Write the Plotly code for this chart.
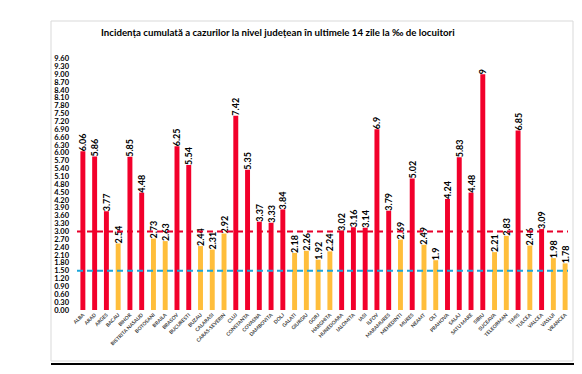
import plotly.graph_objects as go

counties = ["ALBA", "ARAD", "ARGES", "BACAU", "BIHOR", "BISTRITA NASAUD", "BOTOSANI", "BRAILA",
            "BRASOV", "BUCURESTI", "BUZAU", "CALARASI", "CARAS-SEVERIN", "CLUJ", "CONSTANTA",
            "COVASNA", "DAMBOVITA", "DOLJ", "GALATI", "GIURGIU", "GORJ", "HARGHITA", "HUNEDOARA",
            "IALOMITA", "IASI", "ILFOV", "MARAMURES", "MEHEDINTI", "MURES", "NEAMT", "OLT",
            "PRAHOVA", "SALAJ", "SATU MARE", "SIBIU", "SUCEAVA", "TELEORMAN", "TIMIS", "TULCEA",
            "VALCEA", "VASLUI", "VRANCEA"]
incidence = [6.06, 5.86, 3.77, 2.54, 5.85, 4.48, 2.73, 2.63, 6.25, 5.54, 2.44, 2.31, 2.92, 7.42,
             5.35, 3.37, 3.33, 3.84, 2.18, 2.26, 1.92, 2.24, 3.02, 3.16, 3.14, 6.9, 3.79, 2.69,
             5.02, 2.49, 1.9, 4.24, 5.83, 4.48, 9, 2.21, 2.83, 6.85, 2.46, 3.09, 1.98, 1.78]
threshold_red = 3.0
threshold_blue = 1.5
ytick_vals = [round(i * 0.3, 2) for i in range(33)]
ytick_text = [f"{v:.2f}" for v in ytick_vals]
title_text = "Incidența cumulată a cazurilor la nivel județean în ultimele 14 zile la ‰ de locuitori"

RED = "#F2002B"
ORANGE = "#FFBE3B"
colors = [RED if v > threshold_red else ORANGE for v in incidence]
labels = [f"{v:g}" for v in incidence]

fig = go.Figure()
fig.add_trace(go.Bar(
    x=counties, y=incidence, marker=dict(color=colors, line=dict(width=0)),
    text=labels, textposition="outside", textangle=-90, cliponaxis=False,
    constraintext="none",
    textfont=dict(family="Lato", size=9, color="#000000", weight="bold"),
    hoverinfo="x+y",
))

L, R, T, B = 69, 19, 50, 72
W, H = 582, 374
pw, ph = W - L - R, H - T - B

def px_x(x):
    return (x - L) / pw

def px_y(y):
    return (H - B - y) / ph

shapes = [
    dict(type="rect", xref="paper", yref="paper", x0=px_x(43), x1=px_x(565), y0=px_y(353), y1=px_y(13),
         line=dict(color="#D9D9D9", width=1), fillcolor="rgba(0,0,0,0)", layer="below"),
    dict(type="line", xref="paper", yref="paper", x0=px_x(43), x1=px_x(566), y0=px_y(356), y1=px_y(356),
         line=dict(color="#000000", width=2)),
    dict(type="line", xref="paper", yref="y", x0=0, x1=px_x(560), y0=threshold_red, y1=threshold_red,
         line=dict(color="#E8002A", width=2, dash="6px,4px")),
    dict(type="line", xref="paper", yref="y", x0=0, x1=px_x(560), y0=threshold_blue, y1=threshold_blue,
         line=dict(color="#1DA6DA", width=2, dash="6px,4px")),
]

fig.update_layout(
    width=W, height=H,
    margin=dict(l=L, r=R, t=T, b=B, autoexpand=False),
    paper_bgcolor="white", plot_bgcolor="white",
    showlegend=False,
    bargap=0.58,
    shapes=shapes,
    title=dict(text=title_text, x=93 / W, xref="container", xanchor="left",
               y=1 - 25 / H, yanchor="middle",
               font=dict(family="Lato", size=9.7, color="#000000", weight="bold")),
    xaxis=dict(tickangle=-45, showgrid=False, showline=False, zeroline=False,
               tickfont=dict(family="Lato", size=5, color="#404040", weight="bold"),
               ticks="", automargin=False),
    yaxis=dict(range=[0, 9.62], tickmode="array", tickvals=ytick_vals, ticktext=ytick_text,
               showgrid=False, showline=False, zeroline=False, ticks="",
               ticklabelstandoff=7,
               tickfont=dict(family="Lato", size=7.5, color="#000000", weight="bold"),
               automargin=False),
)

fig.write_html("out.html")
